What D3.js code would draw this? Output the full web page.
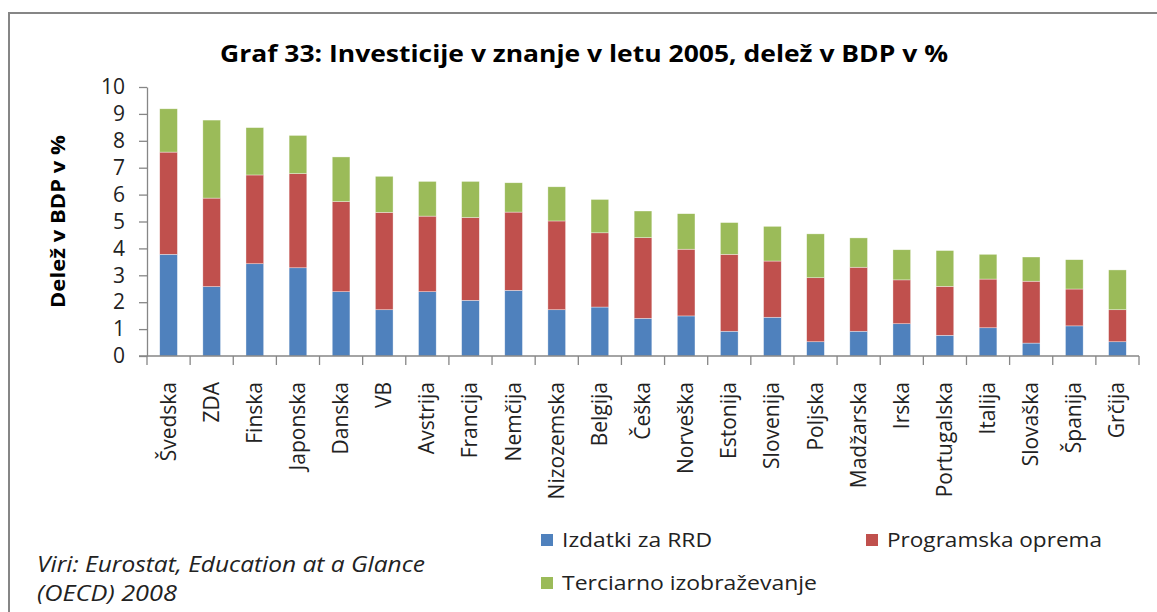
<!DOCTYPE html>
<html>
<head>
<meta charset="utf-8">
<script src="https://cdn.jsdelivr.net/npm/d3@7"></script>
<style>
  body { margin: 0; background: #fff; }
  svg { display: block; font-family: "Open Sans", Lato, sans-serif; }
</style>
</head>
<body>
<svg id="chart" width="1157" height="612"></svg>
<script>
// Data (share of GDP, %)
let countries = ['Švedska', 'ZDA', 'Finska', 'Japonska', 'Danska', 'VB',
  'Avstrija', 'Francija', 'Nemčija', 'Nizozemska', 'Belgija', 'Češka',
  'Norveška', 'Estonija', 'Slovenija', 'Poljska', 'Madžarska', 'Irska',
  'Portugalska', 'Italija', 'Slovaška', 'Španija', 'Grčija'];
let rrd = [3.78, 2.58, 3.43, 3.28, 2.39, 1.72, 2.39, 2.07, 2.44, 1.72, 1.82,
  1.40, 1.49, 0.92, 1.44, 0.53, 0.92, 1.20, 0.77, 1.05, 0.48, 1.12, 0.53];
let software = [3.80, 3.29, 3.30, 3.50, 3.35, 3.62, 2.81, 3.08, 2.91, 3.30,
  2.76, 3.00, 2.48, 2.86, 2.09, 2.38, 2.38, 1.63, 1.82, 1.81, 2.30, 1.37, 1.19];
let tertiary = [1.61, 2.90, 1.76, 1.42, 1.66, 1.34, 1.29, 1.34, 1.09, 1.27,
  1.24, 0.99, 1.32, 1.18, 1.29, 1.63, 1.09, 1.12, 1.33, 0.92, 0.90, 1.09, 1.48];
let seriesNames = ['Izdatki za RRD', 'Programska oprema', 'Terciarno izobraževanje'];
let seriesColors = ['#4F81BD', '#C0504D', '#9BBB59'];
let yTicks = [0, 1, 2, 3, 4, 5, 6, 7, 8, 9, 10];

let svg = d3.select('#chart');
let margin = {left: 147, top: 87, right: 1139, bottom: 356};

// Outer frame (runs off the right and bottom edges)
svg.append('rect')
    .attr('x', 9).attr('y', 13)
    .attr('width', 1200).attr('height', 700)
    .attr('fill', 'none')
    .attr('stroke', '#868686')
    .attr('stroke-width', 2);

svg.append('text')
    .attr('x', 220).attr('y', 62)
    .attr('textLength', 728)
    .attr('lengthAdjust', 'spacingAndGlyphs')
    .style('font-weight', 'bold')
    .style('font-size', '24px')
    .text('Graf 33: Investicije v znanje v letu 2005, delež v BDP v %');

let x = d3.scaleBand()
    .domain(countries)
    .range([margin.left, margin.right])
    .paddingInner(0.59)
    .paddingOuter(0.295);
let y = d3.scaleLinear().domain([0, 10]).range([margin.bottom, margin.top]);

let rows = countries.map((c, i) => ({
  country: c, rrd: rrd[i], software: software[i], tertiary: tertiary[i]
}));
let stack = d3.stack().keys(['rrd', 'software', 'tertiary'])(rows);

svg.append('g')
    .selectAll('g')
    .data(stack)
    .join('g')
    .attr('fill', (d, i) => seriesColors[i])
    .selectAll('rect')
    .data(d => d)
    .join('rect')
    .attr('x', d => x(d.data.country))
    .attr('y', d => y(d[1]))
    .attr('width', x.bandwidth())
    .attr('height', d => y(d[0]) - y(d[1]))
    .attr('stroke', '#fff')
    .attr('stroke-opacity', 0.6)
    .attr('stroke-width', 0.6);

// Y axis
let yAxis = svg.append('g')
    .attr('transform', 'translate(' + margin.left + ',0)')
    .call(d3.axisLeft(y).tickValues(yTicks).tickSize(8).tickPadding(14)
        .tickSizeOuter(0));
yAxis.select('.domain').attr('stroke', '#868686').attr('stroke-width', 1.3);
yAxis.selectAll('line').attr('stroke', '#868686').attr('stroke-width', 1.3);
yAxis.selectAll('text')
    .style('font-size', '21px')
    .style('font-family', '"Open Sans", Lato, sans-serif')
    .attr('fill', '#222');

// X axis: ticks between categories
let xAxisG = svg.append('g');
xAxisG.append('line')
    .attr('x1', margin.left - 8).attr('x2', margin.right)
    .attr('y1', margin.bottom).attr('y2', margin.bottom)
    .attr('stroke', '#868686').attr('stroke-width', 1.3);
let step = x.step();
xAxisG.selectAll('line.tick')
    .data(countries.concat(['end']))
    .join('line')
    .attr('class', 'tick')
    .attr('x1', (d, i) => margin.left + i * step)
    .attr('x2', (d, i) => margin.left + i * step)
    .attr('y1', margin.bottom)
    .attr('y2', margin.bottom + 9)
    .attr('stroke', '#868686').attr('stroke-width', 1.3);
xAxisG.selectAll('text')
    .data(countries)
    .join('text')
    .attr('transform', d => 'translate(' + (x(d) + x.bandwidth() / 2 + 7) + ',382) rotate(-90)')
    .attr('text-anchor', 'end')
    .attr('fill', '#222')
    .style('font-size', '21px')
    .text(d => d);

// Y axis title
svg.append('text')
    .attr('transform', 'translate(65,' + ((margin.top + margin.bottom) / 2) + ') rotate(-90)')
    .attr('text-anchor', 'middle')
    .attr('textLength', 173)
    .attr('lengthAdjust', 'spacingAndGlyphs')
    .style('font-weight', 'bold')
    .style('font-size', '19px')
    .text('Delež v BDP v %');

// Legend
let legendPos = [[541, 547], [866, 547], [541, 590]];
let legendWidths = [150, 215, 255];
let legend = svg.append('g')
    .selectAll('g')
    .data(seriesNames)
    .join('g')
    .attr('transform', (d, i) => 'translate(' + legendPos[i][0] + ',' + legendPos[i][1] + ')');
legend.append('rect')
    .attr('x', 0).attr('y', -13)
    .attr('width', 12).attr('height', 12)
    .attr('fill', (d, i) => seriesColors[i]);
legend.append('text')
    .attr('x', 21)
    .attr('y', 0)
    .attr('textLength', (d, i) => legendWidths[i])
    .attr('lengthAdjust', 'spacingAndGlyphs')
    .attr('fill', '#222')
    .style('font-size', '20px')
    .text(d => d);

// Source note
let sourceLines = ['Viri: Eurostat, Education at a Glance', '(OECD) 2008'];
let sourceWidths = [388, 140];
svg.append('g')
    .selectAll('text')
    .data(sourceLines)
    .join('text')
    .attr('x', 37)
    .attr('y', (d, i) => 572 + i * 29)
    .attr('textLength', (d, i) => sourceWidths[i])
    .attr('lengthAdjust', 'spacingAndGlyphs')
    .attr('fill', '#222')
    .style('font-style', 'italic')
    .style('font-size', '21px')
    .text(d => d);
</script>
</body>
</html>
